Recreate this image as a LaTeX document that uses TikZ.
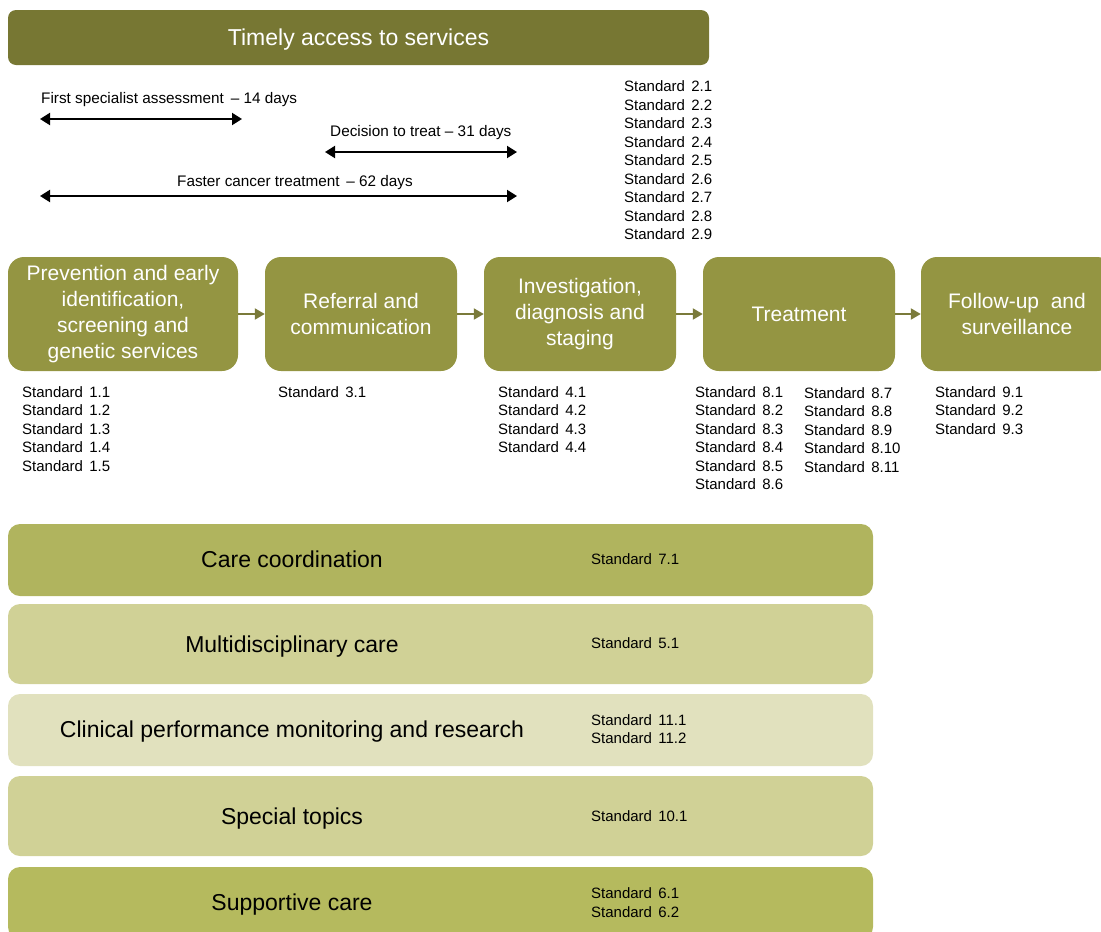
\documentclass[tikz,border=0pt]{standalone}
\usepackage{fontspec}
\setmainfont{Liberation Sans}
\newfontfamily\stdfont{Liberation Sans}[WordSpace=1.5]
\usetikzlibrary{arrows.meta}
\definecolor{topbar}{HTML}{777733}
\definecolor{proc}{HTML}{949542}
\definecolor{flowc}{HTML}{7A7A3A}
\definecolor{bandA}{HTML}{B0B45E}
\definecolor{bandB}{HTML}{D0D196}
\definecolor{bandC}{HTML}{E1E1BE}
\definecolor{bandD}{HTML}{B5BA5E}
\begin{document}
\begin{tikzpicture}[x=1pt,y=-1pt,
  topbox/.style={fill=topbar, rounded corners=8pt, minimum width=701pt, minimum height=55pt, inner sep=0pt, text=white, text height=16.5pt, text depth=0pt, font=\fontsize{23}{27}\selectfont},
  procbox/.style={fill=proc, rounded corners=16pt, minimum width=192pt, minimum height=114pt, inner sep=0pt, text=white, align=center, font=\fontsize{21}{26}\selectfont},
  band/.style={rounded corners=12pt, minimum width=865pt, inner sep=0pt},
  bandlabel/.style={inner sep=0pt, text height=16.5pt, text depth=0pt, font=\fontsize{23}{27}\selectfont},
  std/.style={inner sep=0pt, align=left, anchor=north west, font=\stdfont\fontsize{15}{18.5}\selectfont},
  bstd/.style={inner sep=0pt, align=left, anchor=west, font=\stdfont\fontsize{15}{18.5}\selectfont},
  spanlabel/.style={inner sep=0pt, anchor=west, font=\fontsize{15.3}{18}\selectfont},
  span/.style={{Triangle[length=10pt,width=12pt]}-{Triangle[length=10pt,width=12pt]}, line width=2pt},
  flow/.style={-{Triangle[length=10pt,width=11pt]}, line width=2pt, draw=flowc}
]
\useasboundingbox (0,0) rectangle (1101,932);

% top bar
\node[topbox] (top) at (358.5,37.5) {Timely access to services};

% time spans
\node[spanlabel] (l1) at (41,99.5) {First specialist assessment \,– 14 days};
\coordinate (a1l) at (40,119); \coordinate (a1r) at (242,119);
\draw[span] (a1l) -- (a1r);
\node[spanlabel] (l2) at (330,132.5) {Decision to treat – 31 days};
\coordinate (a2l) at (325,152); \coordinate (a2r) at (517,152);
\draw[span] (a2l) -- (a2r);
\node[spanlabel] (l3) at (177,182.5) {Faster cancer treatment \,– 62 days};
\coordinate (a3l) at (40,196); \coordinate (a3r) at (517,196);
\draw[span] (a3l) -- (a3r);

\node[std] (s2) at (624,80.5) {Standard 2.1\\Standard 2.2\\Standard 2.3\\Standard 2.4\\Standard 2.5\\Standard 2.6\\Standard 2.7\\Standard 2.8\\Standard 2.9};

% process boxes
\node[procbox, minimum width=230pt] (p1) at (123,314) {Prevention and early\\identification,\\screening and\\genetic services};
\node[procbox] (p2) at (361,314) {Referral and\\communication};
\node[procbox] (p3) at (580,314) {Investigation,\\diagnosis and\\staging};
\node[procbox] (p4) at (799,314) {Treatment};
\node[procbox] (p5) at (1017,314) {Follow-up \ and\\surveillance};

\draw[flow] (p1.east) -- (p2.west);
\draw[flow] (p2.east) -- (p3.west);
\draw[flow] (p3.east) -- (p4.west);
\draw[flow] (p4.east) -- (p5.west);

\node[std] (s1) at (22,386) {Standard 1.1\\Standard 1.2\\Standard 1.3\\Standard 1.4\\Standard 1.5};
\node[std] (s3) at (278,386) {Standard 3.1};
\node[std] (s4) at (498,386) {Standard 4.1\\Standard 4.2\\Standard 4.3\\Standard 4.4};
\node[std] (s8a) at (695,386) {Standard 8.1\\Standard 8.2\\Standard 8.3\\Standard 8.4\\Standard 8.5\\Standard 8.6};
\node[std] (s8b) at (804,387) {Standard 8.7\\Standard 8.8\\Standard 8.9\\Standard 8.10\\Standard 8.11};
\node[std] (s9) at (935,386) {Standard 9.1\\Standard 9.2\\Standard 9.3};

% bands
\node[band, fill=bandA, minimum height=72pt] (b1) at (440.5,560) {};
\node[bandlabel] (b1l) at (292,559) {Care coordination};
\node[bstd] (b1s) at (591,559.5) {Standard 7.1};

\node[band, fill=bandB, minimum height=80pt] (b2) at (440.5,644) {};
\node[bandlabel] (b2l) at (292,644) {Multidisciplinary care};
\node[bstd] (b2s) at (591,643.5) {Standard 5.1};

\node[band, fill=bandC, minimum height=72pt] (b3) at (440.5,730) {};
\node[bandlabel] (b3l) at (292,729) {Clinical performance monitoring and research};
\node[bstd] (b3s) at (591,729) {Standard 11.1\\Standard 11.2};

\node[band, fill=bandB, minimum height=80pt] (b4) at (440.5,816) {};
\node[bandlabel] (b4l) at (292,816) {Special topics};
\node[bstd] (b4s) at (591,816) {Standard 10.1};

\node[band, fill=bandD, minimum height=72pt] (b5) at (440.5,903) {};
\node[bandlabel] (b5l) at (292,902) {Supportive care};
\node[bstd] (b5s) at (591,902.5) {Standard 6.1\\Standard 6.2};
\end{tikzpicture}
\end{document}
